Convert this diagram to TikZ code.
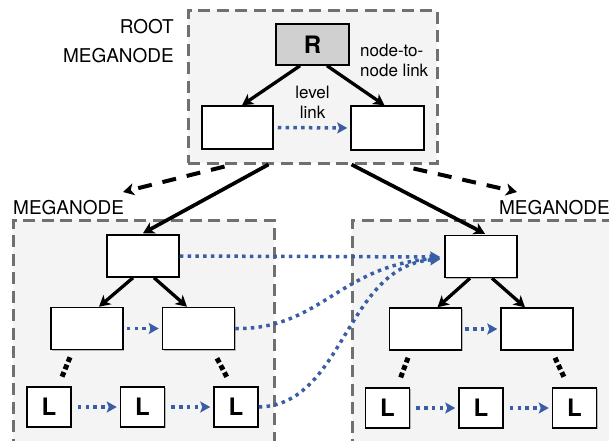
\documentclass[tikz,border=0pt]{standalone}
\usepackage{fontspec}
\setmainfont{TeX Gyre Heros}
\usetikzlibrary{arrows.meta,shadows,calc}

\definecolor{linkblue}{HTML}{3A5EA5}
\definecolor{megafill}{HTML}{F4F4F4}
\definecolor{megaborder}{HTML}{707070}
\definecolor{rootfill}{HTML}{D0D0D0}

\begin{document}
\begin{tikzpicture}[x=1pt,y=-1pt,
  mega/.style={draw=megaborder, fill=megafill, line width=3pt,
    dash pattern=on 12pt off 6.5pt, inner sep=0pt},
  tnode/.style={draw=black, fill=white, line width=1.5pt, inner sep=0pt,
    minimum width=72pt, minimum height=42pt,
    drop shadow={shadow xshift=1pt, shadow yshift=-1pt, opacity=0.25, fill=black}},
  leaf/.style={tnode, minimum width=44pt, minimum height=40pt,
    font=\fontsize{24}{24}\selectfont\bfseries},
  biglabel/.style={font=\fontsize{19}{23}\selectfont, inner sep=0pt},
  smalllabel/.style={font=\fontsize{17}{20}\selectfont, inner sep=0pt},
  child/.style={line width=3.3pt, -{Stealth[length=11pt,width=12pt,inset=3pt]}},
  descend/.style={line width=4pt, dash pattern=on 14pt off 11pt,
    -{Stealth[length=11pt,width=12pt,inset=3pt]}},
  levellink/.style={draw=linkblue, line width=3.5pt, dash pattern=on 3.5pt off 4.3pt,
    -{Stealth[length=10pt,width=11pt,inset=2pt]}},
  elided/.style={line width=5pt, dash pattern=on 5pt off 3pt}
]
\useasboundingbox (0,0) rectangle (609,440);
\clip (0,0) rectangle (609,440);

% meganode frames
\node[mega, minimum width=249pt, minimum height=153pt] (RM) at (312.5,86.5) {};
\node[mega, minimum width=261pt, minimum height=240pt] (LM) at (143.5,340) {};
\node[mega, minimum width=270pt, minimum height=240pt] (RG) at (487,340) {};

% meganode captions
\node[biglabel, anchor=east] (cRoot) at (174,27) {ROOT};
\node[biglabel, anchor=east] (cRootM) at (174,56) {MEGANODE};
\node[biglabel, anchor=west] (cLeft) at (13,207.5) {MEGANODE};
\node[biglabel, anchor=east] (cRight) at (610,207.5) {MEGANODE};

% root meganode contents
\node[tnode, fill=rootfill, minimum width=73pt, minimum height=41pt,
  font=\fontsize{24}{24}\selectfont\bfseries] (R) at (312.5,44.5) {R};
\node[tnode, minimum width=71pt, minimum height=43pt] (A1) at (237.5,127.5) {};
\node[tnode, minimum width=73pt, minimum height=44pt] (A2) at (387.5,128) {};
\node[smalllabel, align=left, anchor=north west] (tN) at (360,44) {node-to-\\node link};
\node[smalllabel, align=center, anchor=north] (tL) at (312.5,86) {level\\link};

% left meganode contents
\node[tnode] (LT) at (143,256) {};
\node[tnode] (LA) at (87,328.5) {};
\node[tnode] (LB) at (198.5,328.5) {};
\node[leaf] (L1) at (49,407) {L};
\node[leaf] (L2) at (142.5,407) {L};
\node[leaf] (L3) at (236,407) {L};

% right meganode contents
\node[tnode] (RT) at (481,256.5) {};
\node[tnode] (RA) at (425.5,329) {};
\node[tnode] (RB) at (537,329) {};
\node[leaf] (K1) at (387.5,408) {L};
\node[leaf] (K2) at (481,408) {L};
\node[leaf] (K3) at (574.5,408) {L};

% free ends of the descent arrows
\coordinate (dL) at (123,192);
\coordinate (dR) at (517,192);

% node-to-node links
\draw[child] ($(R.south)+(-12.5,0)$) -- ($(A1.north)+(4.5,0)$);
\draw[child] ($(R.south)+(14.5,0)$) -- ($(A2.north)+(-3,0)$);
\draw[child, line width=3.7pt] ($(RM.south west)+(82,0)$) -- ($(LT.north)+(0,-1)$);
\draw[child, line width=3.7pt] ($(RM.south west)+(165,0)$) -- ($(RT.north)+(4,-1)$);
\draw[child] ($(LT.south)+(-10,0)$) -- ($(LA.north)+(12,0)$);
\draw[child] ($(LT.south)+(11,0)$) -- ($(LB.north)+(-11.5,0)$);
\draw[child] ($(RT.south)+(-11,0)$) -- ($(RA.north)+(12,0)$);
\draw[child] ($(RT.south)+(11,0)$) -- ($(RB.north)+(-12,0)$);

% descent into child meganodes
\draw[descend] ($(RM.south west)+(38,2)$) -- (dL);
\draw[descend] ($(RM.south west)+(227,4)$) -- (dR);

% elided levels down to the leaves
\draw[elided] ($(LA.south)+(-17,7)$) -- ($(L1.north)+(12,-7)$);
\draw[elided] ($(LB.south)+(18.5,8)$) -- ($(L3.north)+(-8,-7)$);
\draw[elided] ($(RA.south)+(-17.5,7)$) -- ($(K1.north)+(12.5,-8)$);
\draw[elided] ($(RB.south)+(18,7)$) -- ($(K3.north)+(-9.5,-8)$);

% level links
\draw[levellink, shorten <=4pt, shorten >=3pt] (A1.east) -- (A2.west);
\draw[levellink, shorten <=3pt, shorten >=3pt] (LA.east) -- (LB.west);
\draw[levellink, shorten <=3pt, shorten >=3pt] (RA.east) -- (RB.west);
\draw[levellink, shorten <=6pt, shorten >=3pt] (L1.east) -- (L2.west);
\draw[levellink, shorten <=6pt, shorten >=3pt] (L2.east) -- (L3.west);
\draw[levellink, shorten <=6pt, shorten >=3pt] (K1.east) -- (K2.west);
\draw[levellink, shorten <=6pt, shorten >=3pt] (K2.east) -- (K3.west);

% links across meganodes
\draw[levellink, shorten >=4pt] (LT.east) -- ($(RT.west)+(0,0.5)$);
\draw[levellink, shorten >=4pt] (LB.east) .. controls (320,330) and (340,265) .. ($(RT.west)+(0,1.5)$);
\draw[levellink, shorten >=4pt] (L3.east) .. controls (345,405) and (345,265) .. ($(RT.west)+(0,2.5)$);
\end{tikzpicture}
\end{document}
